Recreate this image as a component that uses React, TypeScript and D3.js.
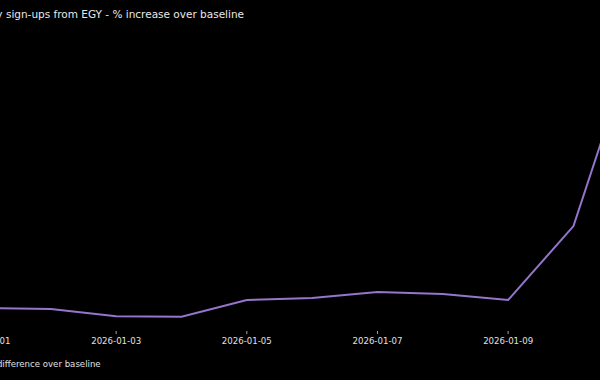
import React from "react";
import * as d3 from "d3";

const dates = [
  "2026-01-01", "2026-01-02", "2026-01-03", "2026-01-04", "2026-01-05", "2026-01-06",
  "2026-01-07", "2026-01-08", "2026-01-09", "2026-01-10", "2026-01-11",
];
const pctIncrease = [3.4, 3.1, 0.6, 0.4, 6.2, 6.9, 9.0, 8.3, 6.2, 31.7, 100];
const tickDates = ["2026-01-01", "2026-01-03", "2026-01-05", "2026-01-07", "2026-01-09", "2026-01-11"];
const title = "Daily sign-ups from EGY - % increase over baseline";
const legendLabel = "% difference over baseline";

const W = 600;
const H = 380;
const parse = d3.utcParse("%Y-%m-%d");
const fmt = d3.utcFormat("%Y-%m-%d");
const FONT = "DejaVu Sans, sans-serif";

export default function App() {
  const x = d3
    .scaleUtc()
    .domain([parse(dates[0])!, parse(dates[dates.length - 1])!])
    .range([-14.5, 638.8]);
  const y = d3.scaleLinear().domain([0, 100]).range([318, 28]);
  const pts = dates.map((d, i) => ({ d: parse(d)!, v: pctIncrease[i] }));
  const line = d3
    .line<{ d: Date; v: number }>()
    .x((p) => x(p.d))
    .y((p) => y(p.v));
  const tickY = 331;
  return (
    <svg
      width={W}
      height={H}
      style={{ position: "absolute", left: 0, top: 0, background: "#000" }}
    >
      <rect x={0} y={0} width={W} height={H} fill="#000" />
      <text x={-24} y={18} fill="#e8e8e8" fontFamily={FONT} fontSize={10.5}>
        {title}
      </text>
      <path d={line(pts) || ""} fill="none" stroke="#9575cd" strokeWidth={2} />
      {tickDates.map((t) => {
        const xx = x(parse(t)!);
        return (
          <g key={t}>
            <line x1={xx} x2={xx} y1={tickY} y2={tickY + 3} stroke="#cccccc" strokeWidth={0.8} />
            <text
              x={xx}
              y={tickY + 13}
              fill="#e0e0e0"
              fontFamily={FONT}
              fontSize={8.6}
              textAnchor="middle"
            >
              {fmt(parse(t)!)}
            </text>
          </g>
        );
      })}
      <text x={-14} y={367} fill="#e0e0e0" fontFamily={FONT} fontSize={8.6}>
        {legendLabel}
      </text>
    </svg>
  );
}
